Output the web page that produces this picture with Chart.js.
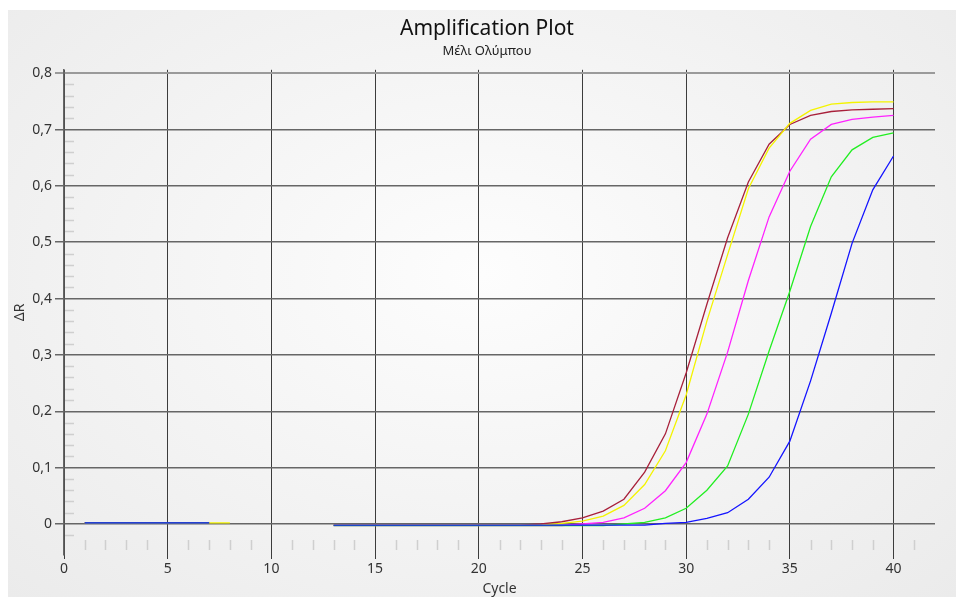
<!DOCTYPE html>
<html>
<head>
<meta charset="utf-8">
<script src="https://cdn.jsdelivr.net/npm/chart.js@4.4.1/dist/chart.umd.min.js"></script>
<style>
  html, body { margin: 0; padding: 0; background: #fff; }
  #wrap { position: relative; width: 956px; height: 597px; overflow: hidden; }
  #panel {
    position: absolute; left: 8px; top: 10px; right: 0; bottom: 0;
    background: radial-gradient(ellipse at 50% 45%, #fdfdfd 0%, #f3f3f3 55%, #ebebeb 100%);
  }
  #chart { position: absolute; left: 0; top: 0; }
</style>
</head>
<body>
<div id="wrap">
  <div id="panel"></div>
  <canvas id="chart" width="956" height="597"></canvas>
</div>
<script>
/* Data */
const cycles = [1, 2, 3, 4, 5, 6, 7, 8, 9, 10, 11, 12, 13, 14, 15, 16, 17, 18, 19, 20,
  21, 22, 23, 24, 25, 26, 27, 28, 29, 30, 31, 32, 33, 34, 35, 36, 37, 38, 39, 40];

const brown = [0.002, 0.002, 0.002, 0.002, 0.002, 0.002, 0.002, null, null, null, null, null,
  -0.002, -0.002, -0.002, -0.002, -0.002, -0.002, -0.002, -0.002, -0.002, -0.002, 0.000, 0.004,
  0.011, 0.023, 0.044, 0.092, 0.160, 0.268, 0.390, 0.508, 0.607, 0.674, 0.709, 0.725, 0.732, 0.735, 0.736, 0.737];

const yellow = [0.002, 0.002, 0.002, 0.002, 0.002, 0.002, 0.002, 0.002, null, null, null, null,
  -0.002, -0.002, -0.002, -0.002, -0.002, -0.002, -0.002, -0.002, -0.002, -0.002, -0.002, 0.001,
  0.005, 0.014, 0.033, 0.070, 0.130, 0.229, 0.360, 0.478, 0.595, 0.667, 0.711, 0.734, 0.745, 0.748, 0.749, 0.749];

const magenta = [0.002, 0.002, 0.002, 0.002, 0.002, 0.002, 0.002, null, null, null, null, null,
  -0.003, -0.003, -0.003, -0.003, -0.003, -0.003, -0.003, -0.003, -0.003, -0.003, -0.003, -0.003,
  0.000, 0.003, 0.011, 0.028, 0.059, 0.109, 0.195, 0.305, 0.432, 0.545, 0.626, 0.683, 0.709, 0.718, 0.722, 0.725];

const green = [0.002, 0.002, 0.002, 0.002, 0.002, 0.002, 0.002, null, null, null, null, null,
  -0.003, -0.003, -0.003, -0.003, -0.003, -0.003, -0.003, -0.003, -0.003, -0.003, -0.003, -0.003,
  -0.003, -0.003, 0.000, 0.003, 0.011, 0.028, 0.060, 0.103, 0.195, 0.307, 0.413, 0.528, 0.616, 0.664, 0.686, 0.694];

const blue = [0.002, 0.002, 0.002, 0.002, 0.002, 0.002, 0.002, null, null, null, null, null,
  -0.002, -0.002, -0.002, -0.002, -0.002, -0.002, -0.002, -0.002, -0.002, -0.002, -0.002, -0.002,
  -0.002, -0.002, -0.002, -0.002, 0.001, 0.003, 0.010, 0.020, 0.044, 0.083, 0.147, 0.254, 0.374, 0.498, 0.593, 0.653];

const xTickValues = [0, 5, 10, 15, 20, 25, 30, 35, 40];
const yTickValues = [0, 0.1, 0.2, 0.3, 0.4, 0.5, 0.6, 0.7, 0.8];

const FONT = 'Noto Sans, Open Sans, sans-serif';

const toPoints = vals => cycles.map((c, i) => ({ x: c, y: vals[i] }));

const line = (label, vals, color) => ({
  label: label,
  data: toPoints(vals),
  borderColor: color,
  backgroundColor: color,
  borderWidth: 1.3,
  pointRadius: 0,
  tension: 0,
  spanGaps: false,
  fill: false
});

/* Minor ticks (axis decoration) */
const minorTicks = {
  id: 'minorTicks',
  beforeDatasetsDraw(chart) {
    const { ctx, chartArea, scales: { x, y } } = chart;
    ctx.save();
    ctx.strokeStyle = '#cfcfcf';
    ctx.lineWidth = 1.5;
    for (let k = -1; k < 40; k++) {
      if (k % 5 === 0) continue;
      const py = Math.round(y.getPixelForValue(k * 0.02)) + 0.5;
      ctx.beginPath();
      ctx.moveTo(chartArea.left + 1, py);
      ctx.lineTo(chartArea.left + 10, py);
      ctx.stroke();
    }
    for (let c = 1; c <= 41; c++) {
      if (c % 5 === 0) continue;
      const px = Math.round(x.getPixelForValue(c)) + 0.5;
      ctx.beginPath();
      ctx.moveTo(px, chartArea.bottom - 15);
      ctx.lineTo(px, chartArea.bottom - 5);
      ctx.stroke();
    }
    ctx.restore();
  }
};

/* first dataset is drawn on top, so blue goes first */
new Chart(document.getElementById('chart').getContext('2d'), {
  type: 'line',
  data: {
    datasets: [
      line('E', blue, '#1414ff'),
      line('D', green, '#22ee22'),
      line('C', magenta, '#ff22ff'),
      line('B', yellow, '#f4f400'),
      line('A', brown, '#a8203a')
    ]
  },
  options: {
    responsive: false,
    animation: false,
    devicePixelRatio: 1,
    layout: { padding: { left: 18, right: 0, top: 6, bottom: 0 } },
    plugins: {
      legend: { display: false },
      tooltip: { enabled: false },
      title: {
        display: true,
        text: 'Amplification Plot',
        color: '#111',
        font: { family: FONT, size: 21, weight: 'normal' },
        padding: { top: 10, bottom: 2 }
      },
      subtitle: {
        display: true,
        text: 'Μέλι Ολύμπου',
        color: '#222',
        font: { family: FONT, size: 13 },
        padding: { top: 0, bottom: 11 }
      }
    },
    scales: {
      x: {
        type: 'linear',
        min: 0,
        max: 42,
        afterBuildTicks: s => { s.ticks = xTickValues.map(v => ({ value: v })); },
        afterFit: s => { s.height = 42; },
        ticks: { color: '#333', font: { family: FONT, size: 14 }, padding: 2, maxRotation: 0, autoSkip: false },
        grid: { color: '#3c3c3c', lineWidth: 1, tickLength: 4 },
        border: { display: false },
        title: { display: true, text: 'Cycle', color: '#333', font: { family: FONT, size: 14 }, padding: 0 }
      },
      y: {
        min: -0.055,
        max: 0.806,
        afterBuildTicks: s => { s.ticks = yTickValues.map(v => ({ value: v })); },
        afterFit: s => { s.width = 46; },
        ticks: {
          color: '#333',
          font: { family: FONT, size: 14 },
          padding: 3,
          callback: v => (v === 0 ? '0' : v.toFixed(1).replace('.', ','))
        },
        grid: {
          color: c => (c.tick && c.tick.value === 0.8 ? '#9a9a9a' : '#666'),
          lineWidth: c => (c.tick && c.tick.value === 0.8 ? 2 : 1.5),
          tickLength: 9
        },
        border: { display: true, color: '#666', width: 1.5 },
        title: { display: true, text: 'ΔR', color: '#333', font: { family: FONT, size: 14 }, padding: { top: -6, bottom: 0 } }
      },
      y2: {
        position: 'right',
        display: true,
        afterFit: s => { s.width = 21; },
        ticks: { display: false },
        grid: { display: false, drawTicks: false },
        border: { display: false }
      }
    }
  },
  plugins: [minorTicks]
});
</script>
</body>
</html>
